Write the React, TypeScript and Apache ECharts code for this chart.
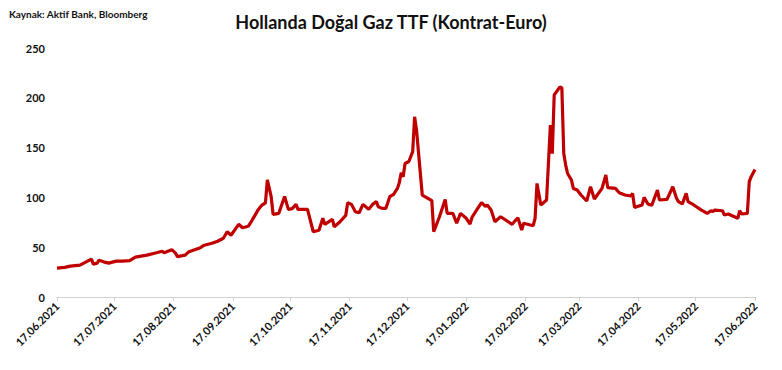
import React, { useEffect, useRef } from "react";
import * as echarts from "echarts";

const TITLE = "Hollanda Doğal Gaz TTF (Kontrat-Euro)";
const SOURCE = "Kaynak: Aktif Bank, Bloomberg";

const START_DATE = "2021-06-17";
const END_DATE = "2022-06-17";
const Y_TICKS = [0, 50, 100, 150, 200, 250];

const dates2021a = [
  "2021-06-17", "2021-06-21", "2021-06-24", "2021-06-29", "2021-07-03", "2021-07-05", "2021-07-06",
  "2021-07-08", "2021-07-09", "2021-07-12", "2021-07-14", "2021-07-18", "2021-07-21", "2021-07-25",
  "2021-07-28", "2021-07-31", "2021-08-03", "2021-08-07", "2021-08-11", "2021-08-12", "2021-08-16",
  "2021-08-18", "2021-08-19", "2021-08-23", "2021-08-25", "2021-08-28", "2021-08-31", "2021-09-02",
  "2021-09-06", "2021-09-09", "2021-09-12", "2021-09-14", "2021-09-16", "2021-09-20", "2021-09-22",
  "2021-09-25", "2021-09-27", "2021-09-30", "2021-10-02", "2021-10-04", "2021-10-05", "2021-10-07",
  "2021-10-08", "2021-10-11", "2021-10-14", "2021-10-16", "2021-10-18", "2021-10-20", "2021-10-21",
  "2021-10-26", "2021-10-29", "2021-11-01", "2021-11-03", "2021-11-04", "2021-11-08", "2021-11-09",
  "2021-11-12", "2021-11-15", "2021-11-16",
];
const values2021a = [
  29, 29.8, 31, 32, 36, 38, 33,
  34, 37, 35, 34, 36, 36, 36.5,
  40, 41, 42, 44, 46, 44.5, 47.5,
  44, 40.5, 42, 45.5, 47.5, 49.5, 52,
  54, 56, 59, 65.5, 62, 73, 69.5,
  71, 77, 87, 92, 94.5, 117.5, 100.7,
  83, 84, 101, 88, 88.7, 93, 88,
  88, 65.5, 67, 79, 73, 78, 70.5,
  75.6, 82, 94.7,
];

const dates2021b = [
  "2021-11-18", "2021-11-20", "2021-11-22", "2021-11-24", "2021-11-27", "2021-11-29", "2021-12-01",
  "2021-12-02", "2021-12-04", "2021-12-06", "2021-12-08", "2021-12-10", "2021-12-12", "2021-12-13",
  "2021-12-14", "2021-12-15", "2021-12-16", "2021-12-18", "2021-12-20", "2021-12-21", "2021-12-22",
  "2021-12-25", "2021-12-30", "2021-12-31",
];
const values2021b = [
  93, 85.6, 84.6, 93, 88, 93, 95.7,
  90.7, 89, 89, 100.7, 103, 109, 114.8,
  124.8, 120.8, 134, 136, 146, 181, 167.7,
  102.4, 96.7, 65.6,
];

const dates2022 = [
  "2022-01-03", "2022-01-06", "2022-01-07", "2022-01-10", "2022-01-12", "2022-01-14", "2022-01-17",
  "2022-01-19", "2022-01-20", "2022-01-23", "2022-01-25", "2022-01-27", "2022-01-28", "2022-01-30",
  "2022-02-01", "2022-02-04", "2022-02-10", "2022-02-13", "2022-02-15", "2022-02-16", "2022-02-21",
  "2022-02-22", "2022-02-23", "2022-02-25", "2022-02-28", "2022-03-02", "2022-03-03", "2022-03-04",
  "2022-03-07", "2022-03-08", "2022-03-09", "2022-03-10", "2022-03-11", "2022-03-13", "2022-03-14",
  "2022-03-16", "2022-03-18", "2022-03-21", "2022-03-23", "2022-03-25", "2022-03-29", "2022-03-31",
  "2022-04-01", "2022-04-05", "2022-04-07", "2022-04-10", "2022-04-13", "2022-04-14", "2022-04-15",
  "2022-04-19", "2022-04-20", "2022-04-22", "2022-04-24", "2022-04-27", "2022-04-28", "2022-05-02",
  "2022-05-05", "2022-05-07", "2022-05-08", "2022-05-10", "2022-05-12", "2022-05-13", "2022-05-16",
  "2022-05-20", "2022-05-23", "2022-05-25", "2022-05-26", "2022-05-27", "2022-05-31", "2022-06-01",
  "2022-06-03", "2022-06-08", "2022-06-09", "2022-06-10", "2022-06-13", "2022-06-14", "2022-06-15",
  "2022-06-17",
];
const values2022 = [
  80.6, 98, 84, 84, 74, 84, 79,
  73.3, 80, 89, 94.7, 91, 92.4, 87.3,
  75.6, 80.6, 73, 79.6, 67.3, 74, 71.6,
  79, 114, 92.4, 97.4, 172.7, 144, 202.8,
  211, 210, 144, 132.5, 124, 117.5, 109,
  107.4, 102.4, 96.4, 110.7, 98.4, 109, 122.5,
  109.8, 109, 104.7, 102.4, 101.4, 104, 90,
  92.4, 100, 93.4, 92, 107.4, 97.4, 98,
  110.7, 99, 95.7, 93.4, 104, 95.7, 92.4,
  87.3, 84, 86.6, 85.7, 87.3, 86.6, 82.3,
  83.3, 79, 86.6, 83.3, 84, 115.8, 120.8,
  128,
];

function buildDays(start: string, end: string): string[] {
  const out: string[] = [];
  const d = new Date(start + "T00:00:00Z");
  const e = new Date(end + "T00:00:00Z");
  while (d.getTime() <= e.getTime()) {
    out.push(d.toISOString().slice(0, 10));
    d.setUTCDate(d.getUTCDate() + 1);
  }
  return out;
}

function fmt(iso: string): string {
  const [y, m, dd] = iso.split("-");
  return `${dd}.${m}.${y}`;
}

export default function App() {
  const ref = useRef<HTMLDivElement>(null);

  useEffect(() => {
    if (!ref.current) return;
    const chart = echarts.init(ref.current, undefined, { renderer: "svg" });
    const days = buildDays(START_DATE, END_DATE);
    const allDates = [...dates2021a, ...dates2021b, ...dates2022];
    const allValues = [...values2021a, ...values2021b, ...values2022];
    const map = new Map<string, number>();
    allDates.forEach((d, i) => map.set(d, allValues[i]));
    const seriesData = days.map((d) => (map.has(d) ? map.get(d)! : null));
    const isTick = (idx: number) => days[idx] && days[idx].slice(8, 10) === "17";
    const font = "Lato, 'Open Sans', sans-serif";

    chart.setOption({
      animation: false,
      backgroundColor: "#ffffff",
      title: [
        {
          text: TITLE,
          left: "center",
          top: 8,
          textStyle: { fontFamily: font, fontSize: 18, fontWeight: "bold", color: "#111111" },
        },
        {
          text: SOURCE,
          left: 4,
          top: 4,
          textStyle: { fontFamily: font, fontSize: 10, fontWeight: "bold", color: "#111111" },
        },
      ],
      grid: { left: 57, right: 27, top: 48, bottom: 73, containLabel: false },
      xAxis: {
        type: "category",
        data: days,
        boundaryGap: false,
        axisLine: { show: true, lineStyle: { color: "#d0d0d0", width: 1 } },
        axisTick: {
          show: true,
          interval: (idx: number) => isTick(idx),
          length: 4,
          lineStyle: { color: "#d0d0d0" },
        },
        axisLabel: {
          interval: (idx: number) => isTick(idx),
          rotate: 45,
          formatter: (v: string) => fmt(v),
          fontFamily: font,
          fontSize: 11,
          fontWeight: "bold",
          color: "#111111",
          margin: 7,
        },
        splitLine: { show: false },
      },
      yAxis: {
        type: "value",
        min: 0,
        max: 250,
        interval: 50,
        axisLine: { show: false },
        axisTick: { show: false },
        splitLine: { show: false },
        axisLabel: {
          fontFamily: font,
          fontSize: 11,
          fontWeight: "bold",
          color: "#111111",
          margin: 12,
          customValues: Y_TICKS,
        },
      },
      series: [
        {
          type: "line",
          data: seriesData,
          connectNulls: true,
          showSymbol: false,
          symbol: "none",
          lineStyle: { color: "#C00000", width: 3.2 },
          itemStyle: { color: "#C00000" },
        },
      ],
    });
    return () => chart.dispose();
  }, []);

  return (
    <div
      ref={ref}
      style={{ position: "fixed", left: 0, top: 0, width: 782, height: 370 }}
    />
  );
}
